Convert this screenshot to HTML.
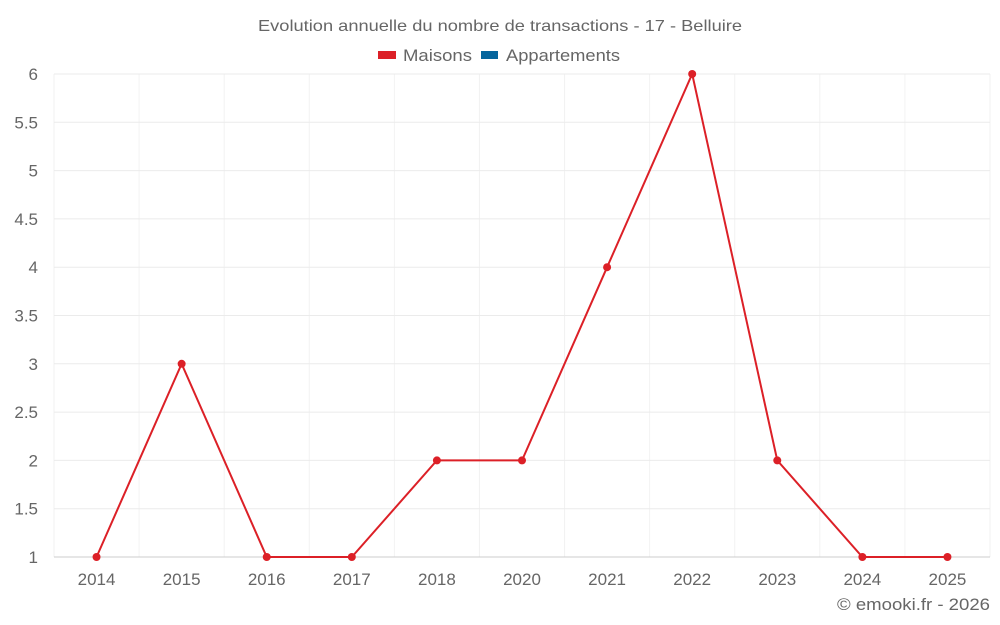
<!DOCTYPE html>
<html><head><meta charset="utf-8">
<style>
html,body{margin:0;padding:0;background:#fff;}
svg{display:block;font-family:"Liberation Sans",sans-serif;}
</style></head>
<body>
<svg id="chart" width="1000" height="625">
<text x="500" y="31" text-anchor="middle" font-size="16" textLength="484" lengthAdjust="spacingAndGlyphs" fill="#666">Evolution annuelle du nombre de transactions - 17 - Belluire</text>
<g>
<g><rect x="378" y="51" width="18" height="8" fill="#dc2027"/><text x="403" y="61" font-size="17" textLength="69" lengthAdjust="spacingAndGlyphs" fill="#666">Maisons</text></g>
<g><rect x="481" y="51" width="17" height="8" fill="#05659d"/><text x="506" y="61" font-size="17" textLength="114" lengthAdjust="spacingAndGlyphs" fill="#666">Appartements</text></g>
</g>
<g id="grid"></g>
<g id="axes"></g>
<g id="series"></g>
<text x="990" y="610" text-anchor="end" font-size="17" textLength="153" lengthAdjust="spacingAndGlyphs" fill="#666">© emooki.fr - 2026</text>
</svg>
<script>
const categories = ["2014","2015","2016","2017","2018","2020","2021","2022","2023","2024","2025"];
const maisons = [1,3,1,1,2,2,4,6,2,1,1];
const yTicks = [1,1.5,2,2.5,3,3.5,4,4.5,5,5.5,6];
const NS="http://www.w3.org/2000/svg";
const L=54,R=990,T=74,B=557,yMin=1,yMax=6;
const bw=(R-L)/categories.length;
const x=i=>L+bw*(i+0.5);
const y=v=>B-(v-yMin)/(yMax-yMin)*(B-T);
function mk(tag,at,parent){const e=document.createElementNS(NS,tag);for(const k in at)e.setAttribute(k,at[k]);parent.appendChild(e);return e;}
const grid=document.getElementById('grid'),axes=document.getElementById('axes'),ser=document.getElementById('series');
for(let i=0;i<=categories.length;i++){
 const vl=mk('line',{x1:L+bw*i,x2:L+bw*i,y1:T,y2:B,stroke:'#f2f2f2','stroke-width':1},grid);
 
 
}
yTicks.forEach(t=>{
 const gl=mk('line',{x1:L,x2:R,y1:y(t),y2:y(t),stroke:t===yMin?'#ccc':'#ebebeb','stroke-width':1},grid);
 
 
 const tx=mk('text',{x:38,y:y(t)+6,'text-anchor':'end','font-size':17,fill:'#666'},axes);
 tx.textContent=String(t);
 
 
});
categories.forEach((c,i)=>{
 const tx=mk('text',{x:x(i),y:585,'text-anchor':'middle','font-size':17,fill:'#666'},axes);
 tx.textContent=c;
 
 
});
const pts=maisons.map((v,i)=>x(i)+','+y(v)).join(' ');
const pl=mk('polyline',{points:pts,fill:'none',stroke:'#dc2027','stroke-width':2},ser);


maisons.forEach((v,i)=>{
 const c=mk('circle',{cx:x(i),cy:y(v),r:4,fill:'#dc2027'},ser);
 
 
});
</script>
</body></html>
